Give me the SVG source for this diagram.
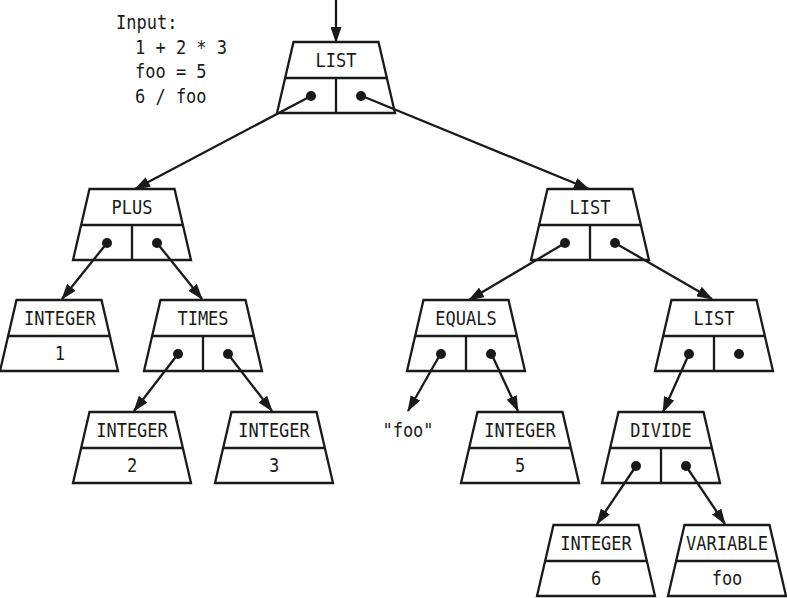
<svg xmlns="http://www.w3.org/2000/svg" xmlns:xlink="http://www.w3.org/1999/xlink" width="787" height="598" viewBox="0 0 787 598">
<style>
.trap{fill:#fff;stroke:#1a1a1a;stroke-width:2.3;stroke-linejoin:miter}
.div{stroke:#1a1a1a;stroke-width:2.3;fill:none}
.dot{fill:#1a1a1a}
text{font-family:"DejaVu Sans Mono","Liberation Mono",monospace;font-size:20px;fill:#1a1a1a}
.c{text-anchor:middle}
.edge{stroke:#1a1a1a;stroke-width:2.3;fill:none;marker-end:url(#ah)}
</style>
<defs>
<marker id="ah" markerUnits="userSpaceOnUse" markerWidth="16" markerHeight="11" refX="15" refY="5.5" orient="auto">
<path d="M0,0 L16,5.5 L0,11 z" fill="#1a1a1a"/>
</marker>
<g id="ptr">
<path class="trap" d="M-42.5,0 H42.5 L59,71 H-59 Z"/>
<path class="div" d="M-51,36 H51 M0,36 V71"/>
<circle class="dot" cx="-25" cy="54" r="5"/>
<circle class="dot" cx="25" cy="54" r="5"/>
</g>
<g id="val">
<path class="trap" d="M-42.5,0 H42.5 L59,71 H-59 Z"/>
<path class="div" d="M-51,36 H51"/>
</g>
</defs>
<rect width="787" height="598" fill="#fff"/>
<g id="input" transform="scale(0.85,1)">
<text x="136.5" y="29">Input:</text>
<text x="158.8" y="54" xml:space="preserve">1 + 2 * 3</text>
<text x="158.8" y="78" xml:space="preserve">foo = 5</text>
<text x="158.8" y="103" xml:space="preserve">6 / foo</text>
</g>
<g id="list-root" transform="translate(336,42)"><use xlink:href="#ptr"/><text class="c" transform="scale(0.85,1)" x="0" y="25">LIST</text></g>
<g id="plus" transform="translate(132,189)"><use xlink:href="#ptr"/><text class="c" transform="scale(0.85,1)" x="0" y="25">PLUS</text></g>
<g id="list-2" transform="translate(590,189)"><use xlink:href="#ptr"/><text class="c" transform="scale(0.85,1)" x="0" y="25">LIST</text></g>
<g id="integer-1" transform="translate(59,300)"><use xlink:href="#val"/><text class="c" transform="scale(0.85,1)" x="1" y="25">INTEGER</text><text class="c" transform="scale(0.85,1)" x="1" y="60">1</text></g>
<g id="times" transform="translate(203,300)"><use xlink:href="#ptr"/><text class="c" transform="scale(0.85,1)" x="0" y="25">TIMES</text></g>
<g id="equals" transform="translate(466,300)"><use xlink:href="#ptr"/><text class="c" transform="scale(0.85,1)" x="0" y="25">EQUALS</text></g>
<g id="list-3" transform="translate(714,300)"><use xlink:href="#ptr"/><text class="c" transform="scale(0.85,1)" x="0" y="25">LIST</text></g>
<g id="integer-2" transform="translate(132,412)"><use xlink:href="#val"/><text class="c" transform="scale(0.85,1)" x="0" y="25">INTEGER</text><text class="c" transform="scale(0.85,1)" x="0" y="60">2</text></g>
<g id="integer-3" transform="translate(274,412)"><use xlink:href="#val"/><text class="c" transform="scale(0.85,1)" x="0" y="25">INTEGER</text><text class="c" transform="scale(0.85,1)" x="0" y="60">3</text></g>
<g id="foo-str" transform="translate(408,437)"><text class="c" transform="scale(0.85,1)" x="0" y="0">"foo"</text></g>
<g id="integer-5" transform="translate(520,412)"><use xlink:href="#val"/><text class="c" transform="scale(0.85,1)" x="0" y="25">INTEGER</text><text class="c" transform="scale(0.85,1)" x="0" y="60">5</text></g>
<g id="divide" transform="translate(661,412)"><use xlink:href="#ptr"/><text class="c" transform="scale(0.85,1)" x="0" y="25">DIVIDE</text></g>
<g id="integer-6" transform="translate(596,525)"><use xlink:href="#val"/><text class="c" transform="scale(0.85,1)" x="0" y="25">INTEGER</text><text class="c" transform="scale(0.85,1)" x="0" y="60">6</text></g>
<g id="variable" transform="translate(727,525)"><use xlink:href="#val"/><text class="c" transform="scale(0.85,1)" x="0" y="25">VARIABLE</text><text class="c" transform="scale(0.85,1)" x="0" y="60">foo</text></g>
<g id="connectors">
<line class="edge" x1="336" y1="0" x2="336" y2="42"/>
<line class="edge" x1="311" y1="96" x2="135" y2="189"/>
<line class="edge" x1="362" y1="96" x2="589" y2="189"/>
<line class="edge" x1="107" y1="243" x2="62" y2="299"/>
<line class="edge" x1="157" y1="243" x2="202" y2="299"/>
<line class="edge" x1="565" y1="243" x2="469" y2="300"/>
<line class="edge" x1="615" y1="243" x2="712" y2="299"/>
<line class="edge" x1="178" y1="354" x2="134" y2="411"/>
<line class="edge" x1="228" y1="354" x2="272" y2="411"/>
<line class="edge" x1="441" y1="353" x2="408" y2="411"/>
<line class="edge" x1="491" y1="353" x2="518" y2="411"/>
<line class="edge" x1="689" y1="354" x2="663" y2="412"/>
<line class="edge" x1="636" y1="466" x2="597" y2="524"/>
<line class="edge" x1="686" y1="466" x2="725" y2="524"/>
</g>
</svg>
